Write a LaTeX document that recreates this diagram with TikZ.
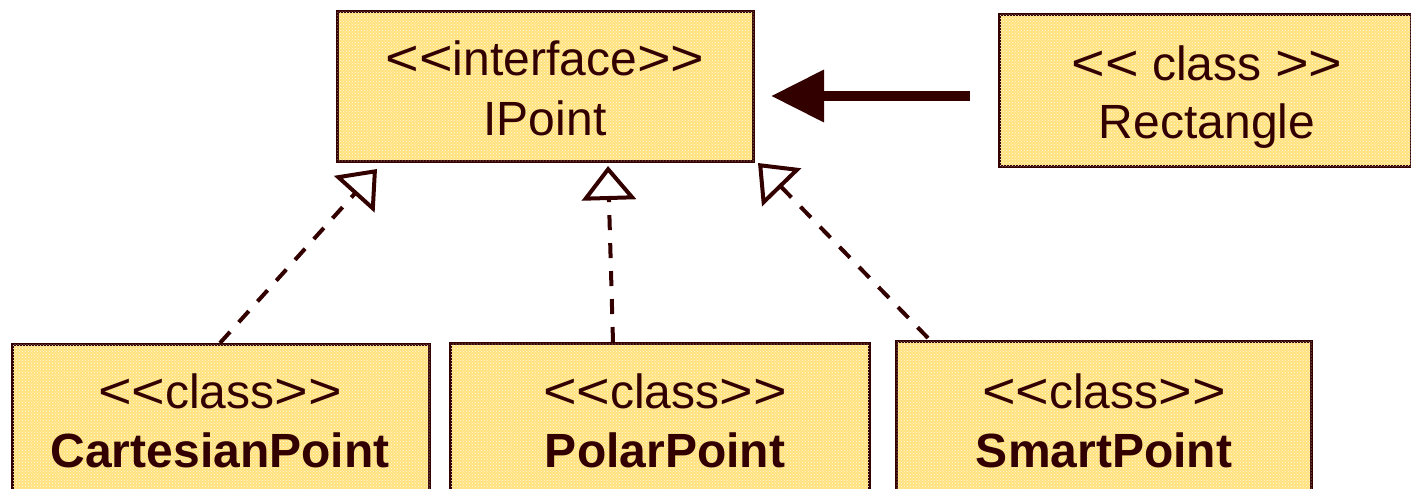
\documentclass[tikz,border=0pt]{standalone}
\usepackage{fontspec}
\setmainfont{Liberation Sans}
\usetikzlibrary{arrows.meta,patterns}
\definecolor{ink}{RGB}{51,0,0}
\definecolor{boxfill}{RGB}{255,226,125}
\newcommand{\myLT}{\scalebox{1.2}[1.05]{<}}
\newcommand{\myGT}{\scalebox{1.2}[1.05]{>}}
\tikzset{
  umlbox/.style={draw=ink, line width=3pt, fill=boxfill,
    postaction={pattern=crosshatch dots, pattern color=white!80!boxfill},
    inner sep=0pt, anchor=north west},
  umltext/.style={text=ink, font=\fontsize{48}{56}\selectfont, anchor=base, inner sep=0pt},
  umlbold/.style={umltext, font=\fontsize{48}{56}\selectfont\bfseries},
  realize/.style={draw=ink, line width=4pt, dash pattern=on 15pt off 13pt,
    -{Triangle[open, length=34pt, width=54pt, line width=4pt, sep=0pt]}},
  assoc/.style={draw=ink, line width=10pt,
    -{Triangle[length=53pt, width=50pt]}}
}
\begin{document}
\begin{tikzpicture}[x=1pt,y=1pt]
\clip (0,0) rectangle (1411,-488);
\fill[white] (0,0) rectangle (1411,-488);
% boxes
\node[umlbox, minimum width=416pt, minimum height=150pt] (ip) at (336,-10) {};
\node[umlbox, minimum width=412pt, minimum height=152pt] (rect) at (998,-13) {};
\node[umlbox, minimum width=417pt, minimum height=200pt] (cp) at (11,-343) {};
\node[umlbox, minimum width=419pt, minimum height=200pt] (pp) at (449,-342) {};
\node[umlbox, minimum width=415pt, minimum height=200pt] (sp) at (895,-340) {};
% texts
\node[umltext] (ip1) at (545,-75) {\myLT\myLT interface\myGT\myGT};
\node[umltext] (ip2) at (545,-135) {IPoint};
\node[umltext] (r1) at (1207,-80) {\myLT\myLT{} class \myGT\myGT};
\node[umltext] (r2) at (1207,-138) {Rectangle};
\node[umltext] (c1) at (220,-408) {\myLT\myLT class\myGT\myGT};
\node[umlbold] (c2) at (220,-467) {CartesianPoint};
\node[umltext] (p1) at (665,-408) {\myLT\myLT class\myGT\myGT};
\node[umlbold] (p2) at (665,-467) {PolarPoint};
\node[umltext] (s1) at (1104,-408) {\myLT\myLT class\myGT\myGT};
\node[umlbold] (s2) at (1104,-467) {SmartPoint};
% connector ends
\coordinate (cpTop) at (220,-343);
\coordinate (ppTop) at (613,-342);
\coordinate (spTop) at (928,-338);
\coordinate (tipL) at (377,-169);
\coordinate (tipM) at (608,-166);
\coordinate (tipR) at (758,-163);
\coordinate (rectL) at (970,-96);
\coordinate (tipA) at (771,-96);
% connectors
\draw[realize] (cpTop) -- (tipL);
\draw[realize] (ppTop) -- (tipM);
\draw[realize] (spTop) -- (tipR);
\draw[assoc] (rectL) -- (tipA);
\end{tikzpicture}
\end{document}
